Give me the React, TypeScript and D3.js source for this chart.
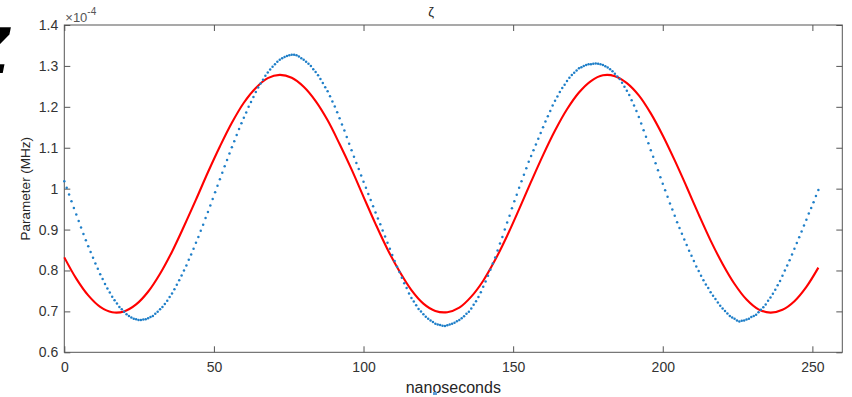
import { useEffect, useRef } from "react";
import * as d3 from "d3";

// blue measured samples, one every 0.8 ns starting at 0 (values in units of 1e-4)
const blueStep = 0.8;
const blueValues = [
  1.018, 1.002, 0.986, 0.969, 0.953, 0.937, 0.921, 0.905, 0.889, 0.874,
  0.859, 0.845, 0.831, 0.817, 0.804, 0.791, 0.779, 0.767, 0.756, 0.746,
  0.736, 0.727, 0.719, 0.711, 0.705, 0.699, 0.693, 0.689, 0.685, 0.682,
  0.681, 0.679, 0.679,
  0.68, 0.681, 0.683, 0.686, 0.689, 0.694, 0.699, 0.705, 0.711, 0.718,
  0.726, 0.735, 0.744, 0.754, 0.765, 0.776, 0.788, 0.8, 0.812, 0.826,
  0.839, 0.853, 0.868, 0.882, 0.897, 0.912, 0.928, 0.943, 0.959, 0.975,
  0.991, 1.007, 1.023, 1.039, 1.055, 1.07, 1.086, 1.101, 1.116, 1.131,
  1.146, 1.16, 1.173, 1.186, 1.2, 1.212, 1.224, 1.236, 1.247, 1.257,
  1.266, 1.276, 1.284, 1.291, 1.298, 1.304, 1.31, 1.315, 1.319, 1.322,
  1.324, 1.326, 1.327,
  1.327, 1.326, 1.323, 1.319, 1.315, 1.31, 1.305, 1.3, 1.292, 1.285,
  1.277, 1.268, 1.258, 1.248, 1.238, 1.226, 1.213, 1.201, 1.187, 1.172,
  1.157, 1.142, 1.126, 1.11, 1.094, 1.078, 1.063, 1.048, 1.032, 1.017,
  1.002, 0.987, 0.972, 0.957, 0.942, 0.927, 0.913, 0.898, 0.883, 0.868,
  0.853, 0.838, 0.823, 0.809, 0.796, 0.782, 0.769, 0.757, 0.744, 0.733,
  0.724, 0.715, 0.706, 0.7, 0.693, 0.687, 0.682, 0.678, 0.674, 0.67,
  0.668, 0.667, 0.665,
  0.664, 0.666, 0.668, 0.67, 0.672, 0.676, 0.679, 0.683, 0.688, 0.694,
  0.699, 0.707, 0.716, 0.725, 0.735, 0.747, 0.76, 0.773, 0.787, 0.802,
  0.817, 0.832, 0.849, 0.866, 0.882, 0.9, 0.917, 0.934, 0.952, 0.969,
  0.985, 1.002, 1.018, 1.034, 1.05, 1.066, 1.08, 1.094, 1.108, 1.122,
  1.136, 1.15, 1.164, 1.177, 1.19, 1.203, 1.215, 1.225, 1.236, 1.246,
  1.254, 1.263, 1.271, 1.278, 1.283, 1.289, 1.294, 1.297, 1.3, 1.302,
  1.304, 1.304, 1.305, 1.306,
  1.305, 1.304, 1.302, 1.299, 1.296, 1.292, 1.287, 1.281, 1.274, 1.268,
  1.259, 1.249, 1.239, 1.229, 1.216, 1.203, 1.19, 1.175, 1.159, 1.143,
  1.127, 1.111, 1.094, 1.078, 1.062, 1.045, 1.028, 1.012, 0.996, 0.98,
  0.964, 0.949, 0.934, 0.918, 0.904, 0.89, 0.876, 0.862, 0.848, 0.836,
  0.823, 0.81, 0.799, 0.787, 0.776, 0.766, 0.757, 0.747, 0.738, 0.73,
  0.722, 0.714, 0.707, 0.701, 0.695, 0.689, 0.685, 0.682, 0.678, 0.675,
  0.677, 0.678, 0.68, 0.682, 0.686, 0.689, 0.692, 0.698, 0.704, 0.71,
  0.717, 0.726, 0.734, 0.743, 0.753, 0.764, 0.774, 0.787, 0.8, 0.812,
  0.825, 0.839, 0.853, 0.867, 0.881, 0.895, 0.91, 0.924, 0.939, 0.953,
  0.967, 0.982, 0.997,
];

// red fitted curve, read every 4 ns from 0 to 252
const redStep = 4;
const redValues = [
  0.832, 0.78, 0.739, 0.711, 0.698, 0.7, 0.717, 0.748, 0.792, 0.846,
  0.908, 0.973, 1.04, 1.103, 1.161, 1.21, 1.246, 1.27, 1.278, 1.271,
  1.249, 1.214, 1.167, 1.109, 1.047, 0.98, 0.914, 0.852, 0.798, 0.752,
  0.719, 0.701, 0.698, 0.709, 0.736, 0.775, 0.826, 0.885, 0.95, 1.017,
  1.082, 1.142, 1.194, 1.235, 1.263, 1.277, 1.275, 1.258, 1.228, 1.184,
  1.13, 1.069, 1.004, 0.937, 0.873, 0.816, 0.767, 0.729, 0.705, 0.697,
  0.704, 0.725, 0.76, 0.807,
];

const xTicks = [0, 50, 100, 150, 200, 250];
const yTicks = [0.6, 0.7, 0.8, 0.9, 1.0, 1.1, 1.2, 1.3, 1.4];
const yTickLabels = ["0.6", "0.7", "0.8", "0.9", "1", "1.1", "1.2", "1.3", "1.4"];

const FONT = "'Liberation Sans', Arial, Helvetica, sans-serif";

const App = () => {
  const svgRef = useRef<SVGSVGElement>(null);

  useEffect(() => {
    document.body.style.margin = "0";
    const svg = d3.select(svgRef.current);
    svg.selectAll("*").remove();

    const left = 64.3;
    const right = 842.3;
    const top = 25;
    const bottom = 352.3;
    const axisColor = "#555";
    const textColor = "#333";

    const x = d3.scaleLinear().domain([0, 260]).range([left, right]);
    const y = d3.scaleLinear().domain([0.6, 1.4]).range([bottom, top]);

    // big glyph that the reference shows cropped at its left edge
    svg
      .append("text")
      .attr("x", 10)
      .attr("y", 73)
      .attr("text-anchor", "end")
      .attr("font-family", "'DejaVu Sans', sans-serif")
      .attr("font-weight", "bold")
      .attr("font-style", "italic")
      .attr("font-size", 62)
      .attr("fill", "#000")
      .text("Z");

    // box
    svg
      .append("rect")
      .attr("x", left)
      .attr("y", top)
      .attr("width", right - left)
      .attr("height", bottom - top)
      .attr("fill", "none")
      .attr("stroke", axisColor)
      .attr("stroke-width", 1);

    const styleAxis = (g: any) => {
      g.select(".domain").remove();
      g.selectAll("line").attr("stroke", axisColor);
      g.selectAll("text")
        .attr("fill", textColor)
        .attr("font-family", FONT)
        .attr("font-size", 14);
    };

    // bottom axis
    svg
      .append("g")
      .attr("transform", `translate(0, ${bottom})`)
      .call(d3.axisBottom(x).tickValues(xTicks).tickSizeInner(-6).tickSizeOuter(0).tickPadding(9.5).tickFormat(d3.format("d")))
      .call(styleAxis);

    // top ticks
    svg
      .append("g")
      .attr("transform", `translate(0, ${top})`)
      .call(d3.axisTop(x).tickValues(xTicks).tickSizeInner(-6).tickSizeOuter(0).tickFormat(() => ""))
      .call(styleAxis);

    // left axis
    svg
      .append("g")
      .attr("transform", `translate(${left}, 0)`)
      .call(
        d3
          .axisLeft(y)
          .tickValues(yTicks)
          .tickSizeInner(-6)
          .tickSizeOuter(0)
          .tickPadding(6)
          .tickFormat((d, i) => yTickLabels[i])
      )
      .call(styleAxis);

    // right ticks
    svg
      .append("g")
      .attr("transform", `translate(${right}, 0)`)
      .call(d3.axisRight(y).tickValues(yTicks).tickSizeInner(-6).tickSizeOuter(0).tickFormat(() => ""))
      .call(styleAxis);

    // exponent
    const expo = svg
      .append("text")
      .attr("x", left + 1)
      .attr("y", 21.5)
      .attr("font-family", FONT)
      .attr("font-size", 13)
      .attr("fill", "#555");
    expo.append("tspan").text("×10");
    expo.append("tspan").attr("dy", -6.5).attr("font-size", 10).text("-4");

    // title
    svg
      .append("text")
      .attr("x", 431)
      .attr("y", 16)
      .attr("text-anchor", "middle")
      .attr("font-family", FONT)
      .attr("font-size", 13)
      .attr("fill", "#222")
      .text("ζ");

    // axis labels
    svg
      .append("text")
      .attr("x", (left + right) / 2)
      .attr("y", 392.5)
      .attr("text-anchor", "middle")
      .attr("font-family", FONT)
      .attr("font-size", 16)
      .attr("fill", "#262626")
      .text("nanoseconds");

    svg
      .append("text")
      .attr("transform", `translate(30, ${(top + bottom) / 2}) rotate(-90)`)
      .attr("text-anchor", "middle")
      .attr("font-family", FONT)
      .attr("font-size", 13.5)
      .attr("fill", "#262626")
      .text("Parameter (MHz)");

    // small blue mark under the x label
    svg
      .append("rect")
      .attr("x", 433)
      .attr("y", 392)
      .attr("width", 4)
      .attr("height", 3)
      .attr("fill", "#5b9bd5");

    // red fitted line
    const line = d3
      .line<number>()
      .x((d, i) => x(i * redStep))
      .y((d) => y(d))
      .curve(d3.curveCatmullRom.alpha(0.5));

    svg
      .append("path")
      .datum(redValues)
      .attr("d", line)
      .attr("fill", "none")
      .attr("stroke", "#ff0000")
      .attr("stroke-width", 2.1);

    // blue dots
    svg
      .append("g")
      .selectAll("circle")
      .data(blueValues)
      .enter()
      .append("circle")
      .attr("cx", (d, i) => x(i * blueStep))
      .attr("cy", (d) => y(d))
      .attr("r", 1.25)
      .attr("fill", "#1f7fc8");
  }, []);

  return <svg ref={svgRef} width={852} height={397} style={{ display: "block" }}></svg>;
};

export default App;
